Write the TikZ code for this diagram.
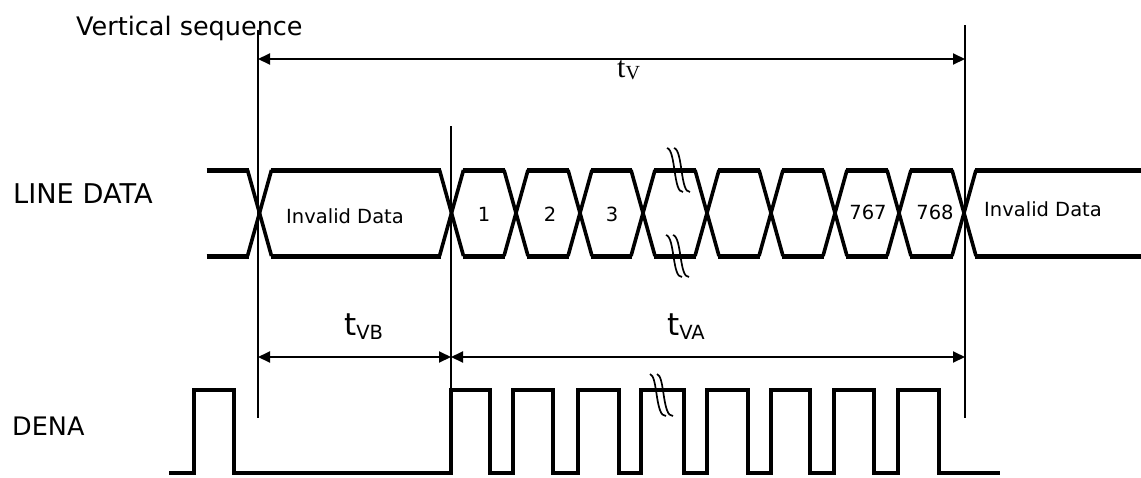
\documentclass[tikz,border=0pt]{standalone}
\usepackage{fontspec}
\setmainfont{DejaVu Sans}
\newfontfamily\serifTV{Liberation Serif}
\usetikzlibrary{arrows.meta}
\begin{document}
\begin{tikzpicture}[x=1pt,y=-1pt,
  bus/.style={line width=5pt},
  diag/.style={line width=3.6pt},
  sig/.style={line width=4.6pt, line join=miter},
  guide/.style={line width=2.2pt},
  guidethin/.style={line width=1.6pt},
  dim/.style={line width=2pt, {Triangle[length=12pt,width=11pt]}-{Triangle[length=12pt,width=11pt]}},
  brk/.style={line width=1.7pt},
  lbl/.style={anchor=base west, inner sep=0pt},
  small/.style={anchor=base, inner sep=0pt, font=\fontsize{19.5}{22}\selectfont}]
\useasboundingbox (0,0) rectangle (1141,477);

% ---------- LINE DATA bus ----------
\foreach \c in {259.5,451.5,516,580,643,707,771,835,899,964} {
  \draw[diag] (\c-12,170) -- (\c+12,256);
  \draw[diag] (\c-12,256) -- (\c+12,170);
}
\foreach \a/\b in {195.5/259.5,259.5/451.5,451.5/516,516/580,580/643,643/707,707/771,771/835,835/899,899/964} {
  \draw[bus] (\a+11,170) -- (\b-11,170);
  \draw[bus] (\a+11,256) -- (\b-11,256);
}
\draw[bus] (975,170) -- (1141,170);
\draw[bus] (975,256) -- (1141,256);

% break marks on the bus
\foreach \dx in {0,7} {
  \draw[brk] (667+\dx,148) .. controls (676+\dx,150) and (673+\dx,193) .. (683+\dx,192);
  \draw[brk] (666+\dx,235) .. controls (675+\dx,237) and (672+\dx,278) .. (682+\dx,277);
}

% ---------- DENA ----------
\draw[sig] (169,473) -- (194,473) -- (194,390) -- (234,390) -- (234,473)
  -- (451,473) -- (451,390) -- (490,390) -- (490,473)
  -- (513,473) -- (513,390) -- (553,390) -- (553,473)
  -- (578,473) -- (578,390) -- (619,390) -- (619,473)
  -- (641,473) -- (641,390) -- (684,390) -- (684,473)
  -- (707,473) -- (707,390) -- (748,390) -- (748,473)
  -- (771,473) -- (771,390) -- (810,390) -- (810,473)
  -- (834,473) -- (834,390) -- (874,390) -- (874,473)
  -- (898,473) -- (898,390) -- (939,390) -- (939,473) -- (1000,473);
\foreach \dx in {0,7} {
  \draw[brk] (650+\dx,374) .. controls (658+\dx,376) and (655+\dx,417) .. (666+\dx,416);
}

% ---------- guide lines ----------
\coordinate (g1t) at (258,30);  \coordinate (g1b) at (258,418);
\coordinate (g2t) at (451,126); \coordinate (g2b) at (451,390);
\coordinate (g3t) at (965,25);  \coordinate (g3b) at (965,418);
\draw[guide] (g1t) -- (g1b);
\draw[guidethin] (g2t) -- (g2b);
\draw[guide] (g3t) -- (g3b);

% ---------- dimension arrows ----------
\coordinate (tvL) at (258,59);   \coordinate (tvR) at (965,59);
\coordinate (tvbL) at (258,357); \coordinate (tvbR) at (451,357);
\coordinate (tvaL) at (451,357); \coordinate (tvaR) at (965,357);
\draw[dim] (tvL) -- (tvR);
\draw[dim] (tvbL) -- (tvbR);
\draw[dim] (tvaL) -- (tvaR);

% ---------- labels ----------
\node[lbl, font=\fontsize{25.5}{30}\selectfont] (title) at (76,35) {Vertical sequence};
\node[lbl, font=\fontsize{27.2}{30}\selectfont] (linedata) at (13,203) {LINE DATA};
\node[lbl, font=\fontsize{25.5}{30}\selectfont] (dena) at (12,435) {DENA};

\node[small] (inv1) at (345,223) {Invalid Data};
\node[small] (d1) at (484,221) {1};
\node[small] (d2) at (550,221) {2};
\node[small] (d3) at (612,221) {3};
\node[small] (d767) at (868,219) {767};
\node[small] (d768) at (935,219) {768};
\node[small] (inv2) at (1043,216) {Invalid Data};

\node[anchor=base west, inner sep=0pt] (tv) at (617,77)
  {\serifTV\fontsize{30}{32}\selectfont t\raisebox{-2pt}{\fontsize{20}{22}\selectfont V}};
\node[anchor=base west, inner sep=0pt] (tvb) at (344,335)
  {\fontsize{31}{33}\selectfont t\raisebox{-4pt}{\fontsize{19.5}{21}\selectfont VB}};
\node[anchor=base west, inner sep=0pt] (tva) at (667,335)
  {\fontsize{31}{33}\selectfont t\raisebox{-4pt}{\fontsize{19.5}{21}\selectfont VA}};
\end{tikzpicture}
\end{document}
